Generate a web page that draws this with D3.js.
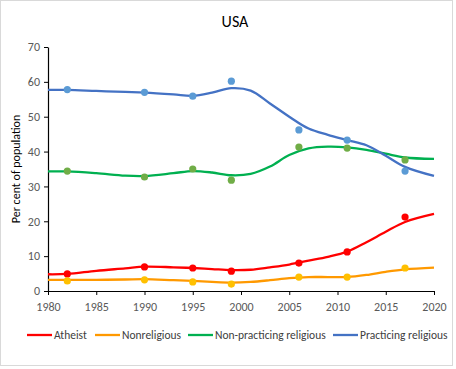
<!DOCTYPE html>
<html><head><meta charset="utf-8">
<script src="https://cdn.jsdelivr.net/npm/d3@7"></script>
<style>body{margin:0;background:#fff}svg{display:block}text{font-family:Calibri,Carlito,"Liberation Sans",Arial,sans-serif}</style>
</head><body><svg id="c" width="456" height="369"></svg>
<script>
const lineYears = [1980,1982,1985,1988,1990,1993,1995,1997,1999,2001,2003,2005,2007,2009,2011,2013,2015,2017,2020];
const practicingLine   = [57.7,57.7,57.4,57.1,56.9,56.4,56.0,56.9,58.2,57.5,53.8,50.0,46.6,44.8,43.3,41.8,38.8,35.6,33.0];
const nonPracticingLine= [34.3,34.3,33.8,33.1,33.0,33.8,34.4,34.0,33.2,33.6,35.7,39.0,40.9,41.4,41.2,40.5,39.4,38.3,37.9];
const atheistLine      = [4.8,4.9,5.8,6.5,7.0,6.8,6.6,6.3,6.0,6.1,6.8,7.6,8.7,9.8,11.3,14.0,17.0,19.8,22.1];
const nonreligiousLine = [3.2,3.2,3.2,3.3,3.4,3.1,2.9,2.6,2.4,2.6,3.1,3.7,4.0,4.0,4.0,4.6,5.5,6.2,6.7];

const surveyYears = [1982,1990,1995,1999,2006,2011,2017];
const practicingPts    = [57.8,57.0,55.9,60.2,46.2,43.3,34.4];
const nonPracticingPts = [34.4,32.7,35.0,31.8,41.3,41.0,37.6];
const atheistPts       = [4.9,6.9,6.6,5.7,8.0,11.2,21.2];
const nonreligiousPts  = [2.9,3.2,2.6,2.0,4.0,4.0,6.6];

const seriesNames = ["Atheist","Nonreligious","Non-practicing religious","Practicing religious"];
const lineColors  = ["#FF0000","#FF9900","#00B050","#4472C4"];
const pointColors = ["#FF0000","#FFC000","#70AD47","#5B9BD5"];
const xTicks = [1980,1985,1990,1995,2000,2005,2010,2015,2020];
const yTicks = [0,10,20,30,40,50,60,70];

const lines = [atheistLine,nonreligiousLine,nonPracticingLine,practicingLine];
const pts = [atheistPts,nonreligiousPts,nonPracticingPts,practicingPts];

const svg = d3.select("#c");
svg.append("rect").attr("x",0.5).attr("y",0.5).attr("width",452).attr("height",365)
  .attr("fill","#fff").attr("stroke","#d9d9d9");

const x = d3.scaleLinear().domain([1980,2020]).range([48,434]);
const y = d3.scaleLinear().domain([0,70]).range([291,47]);

const gx = svg.append("g").attr("transform","translate(0,291)")
  .call(d3.axisBottom(x).tickValues(xTicks).tickFormat(d3.format("d")).tickSize(4).tickSizeOuter(0));
const gy = svg.append("g").attr("transform","translate(48,0)")
  .call(d3.axisLeft(y).tickValues(yTicks).tickSize(4).tickSizeOuter(0));
[gx,gy].forEach(g=>{
  g.select(".domain").attr("stroke","#000").attr("stroke-width",1.2);
  g.selectAll(".tick line").attr("stroke","#000");
  g.selectAll(".tick text").attr("fill","#595959").style("font-size","12px");
});
gx.selectAll(".tick text").attr("dy","1.1em");
gy.selectAll(".tick text").attr("x",-8);

svg.append("text").attr("x",235).attr("y",27).attr("text-anchor","middle")
  .style("font-size","16px").attr("fill","#000").text("USA");
svg.append("text").attr("transform","translate(20,169) rotate(-90)").attr("text-anchor","middle")
  .style("font-size","12px").attr("fill","#000").text("Per cent of population");

const line = d3.line().x((d,i)=>x(lineYears[i])).y(d=>y(d)).curve(d3.curveCatmullRom.alpha(0.5));
lines.forEach((s,k)=>{
  svg.append("path").datum(s).attr("d",line).attr("fill","none")
    .attr("stroke",lineColors[k]).attr("stroke-width",2.3);
});
pts.forEach((s,k)=>{
  svg.append("g").selectAll("circle").data(s).join("circle")
    .attr("cx",(d,i)=>x(surveyYears[i])).attr("cy",d=>y(d)).attr("r",3.6)
    .attr("fill",pointColors[k]);
});

// legend
const legendX = [27,95,188,333];
const lg = svg.append("g");
seriesNames.forEach((n,k)=>{
  const lx = legendX[k];
  lg.append("line").attr("x1",lx).attr("x2",lx+25).attr("y1",335).attr("y2",335)
    .attr("stroke",lineColors[k]).attr("stroke-width",2.3);
  lg.append("text").attr("x",lx+27).attr("y",339).style("font-size","11.5px")
    .attr("fill","#404040").text(n);
});
</script></body></html>
